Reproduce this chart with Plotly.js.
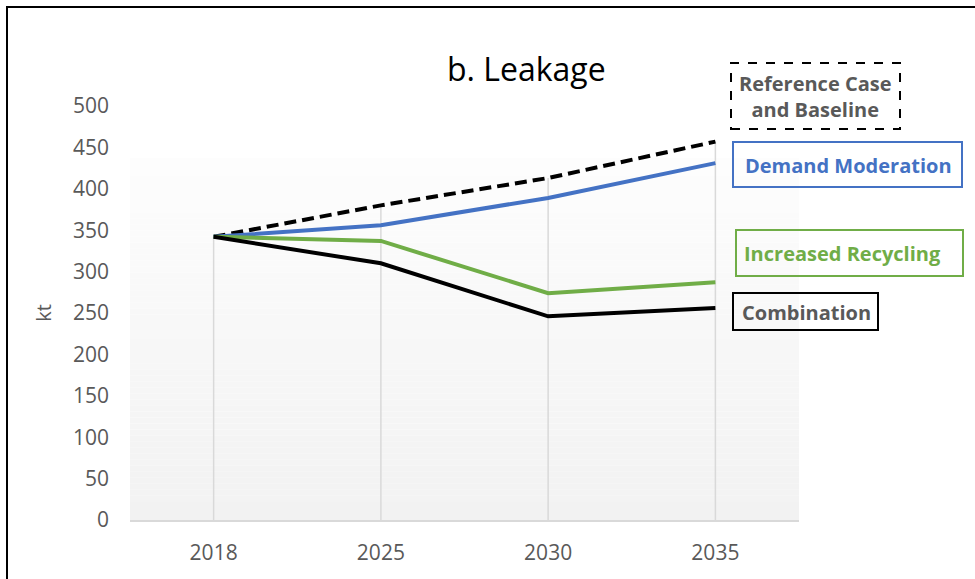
<!DOCTYPE html>
<html>
<head>
<meta charset="utf-8">
<script src="https://cdn.plot.ly/plotly-3.0.1.min.js"></script>
<style>
  html, body { margin: 0; padding: 0; background: #fff; }
  #wrap { position: relative; width: 975px; height: 579px; overflow: hidden; }
  #chart { width: 975px; height: 579px; }
  #frame { position: absolute; left: 6px; top: 6px; width: 990px; height: 600px;
           border-left: 2px solid #000; border-top: 2px solid #000; pointer-events: none; }
</style>
</head>
<body>
<div id="wrap">
  <div id="chart"></div>
  <div id="frame"></div>
</div>
<script>
// Leakage projections (kt) by scenario
const years = ['2018', '2025', '2030', '2035'];
const referenceCase = [342, 380, 413, 457];
const demandModeration = [342, 356, 389, 431];
const increasedRecycling = [342, 337, 274, 287];
const combination = [342, 310, 246, 256];
const yTicks = [0, 50, 100, 150, 200, 250, 300, 350, 400, 450, 500];

const W = 975, H = 579;
const M = { l: 130, r: 176, t: 106, b: 59 };
const pw = W - M.l - M.r, ph = H - M.t - M.b;
// pixel -> paper helpers for decorations
const px = x => (x - M.l) / pw;
const py = y => (H - M.b - y) / ph;

const FONT = 'Open Sans, Lato, sans-serif';
const GREY_TXT = '#595959';
const BLUE = '#4472c4';
const GREEN = '#70ad47';

const series = [
  { name: 'Reference Case and Baseline', y: referenceCase, color: '#000', dash: '12px,6px' },
  { name: 'Demand Moderation', y: demandModeration, color: BLUE, dash: 'solid' },
  { name: 'Increased Recycling', y: increasedRecycling, color: GREEN, dash: 'solid' },
  { name: 'Combination', y: combination, color: '#000', dash: 'solid' }
];
const traces = series.map(s => ({
  type: 'scatter', mode: 'lines', x: years, y: s.y, name: s.name,
  line: { color: s.color, width: 4, dash: s.dash }, hoverinfo: 'skip'
}));

// soft vertical gradient behind the plotting area
const shapes = [];
const gTop = py(158), steps = 60;
for (let i = 0; i < steps; i++) {
  const t = i / (steps - 1);
  const c = Math.round(242 + (253 - 242) * t);
  shapes.push({
    type: 'rect', xref: 'paper', yref: 'paper', layer: 'below',
    x0: 0, x1: 1, y0: gTop * i / steps, y1: gTop * (i + 1) / steps,
    fillcolor: `rgb(${c},${c},${c})`, line: { width: 0 }
  });
}

// drop lines from the highest series down to the axis (category index on x)
years.forEach((yr, i) => {
  const top = Math.max(...series.map(s => s.y[i]));
  shapes.push({
    type: 'line', xref: 'x', yref: 'y', layer: 'below',
    x0: i, x1: i, y0: 0, y1: top,
    line: { color: '#d9d9d9', width: 1.5 }
  });
});

// label boxes
const boxes = [
  { x0: 731, x1: 900, y0: 63, y1: 129, color: '#000', dash: 'dash' },
  { x0: 733, x1: 962, y0: 142, y1: 187, color: BLUE, dash: 'solid' },
  { x0: 736, x1: 963, y0: 230, y1: 276, color: GREEN, dash: 'solid' },
  { x0: 733, x1: 878, y0: 293, y1: 330, color: '#000', dash: 'solid' }
];
boxes.forEach(b => shapes.push({
  type: 'rect', xref: 'paper', yref: 'paper', layer: 'above',
  x0: px(b.x0), x1: px(b.x1), y0: py(b.y1), y1: py(b.y0),
  fillcolor: 'rgba(0,0,0,0)', line: { color: b.color, width: 2, dash: b.dash }
}));

const labels = [
  { text: 'Reference Case<br>and Baseline', x: 815, y: 97, color: GREY_TXT },
  { text: 'Demand Moderation', x: 848, y: 165, color: BLUE },
  { text: 'Increased Recycling', x: 842, y: 253, color: GREEN },
  { text: 'Combination', x: 806, y: 312, color: GREY_TXT }
];
const annotations = labels.map(a => ({
  xref: 'paper', yref: 'paper', x: px(a.x), y: py(a.y),
  xanchor: 'center', yanchor: 'middle', showarrow: false,
  text: '<b>' + a.text + '</b>', align: 'center',
  font: { family: FONT, size: 20, color: a.color }
}));
annotations.push({
  xref: 'paper', yref: 'paper', x: px(526), y: py(68),
  xanchor: 'center', yanchor: 'middle', showarrow: false,
  text: 'b. Leakage', font: { family: FONT, size: 32, color: '#000' }
});

const layout = {
  width: W, height: H,
  margin: M,
  paper_bgcolor: 'rgba(0,0,0,0)',
  plot_bgcolor: '#fff',
  showlegend: false,
  font: { family: FONT, color: GREY_TXT },
  xaxis: {
    type: 'category', range: [-0.5, 3.5],
    showgrid: false,
    showline: true, linecolor: '#d9d9d9', linewidth: 1.5,
    ticks: '', ticklabelstandoff: 13,
    tickfont: { family: FONT, size: 21, color: GREY_TXT },
    zeroline: false, fixedrange: true
  },
  yaxis: {
    range: [0, 500], tickvals: yTicks,
    showgrid: false, zeroline: false, showline: false,
    ticks: '', ticklabelstandoff: 20,
    tickfont: { family: FONT, size: 21, color: GREY_TXT },
    title: { text: 'kt', font: { family: FONT, size: 20, color: GREY_TXT }, standoff: 15 },
    fixedrange: true
  },
  shapes: shapes,
  annotations: annotations
};

Plotly.newPlot('chart', traces, layout, { displayModeBar: false, staticPlot: true });
</script>
</body>
</html>
